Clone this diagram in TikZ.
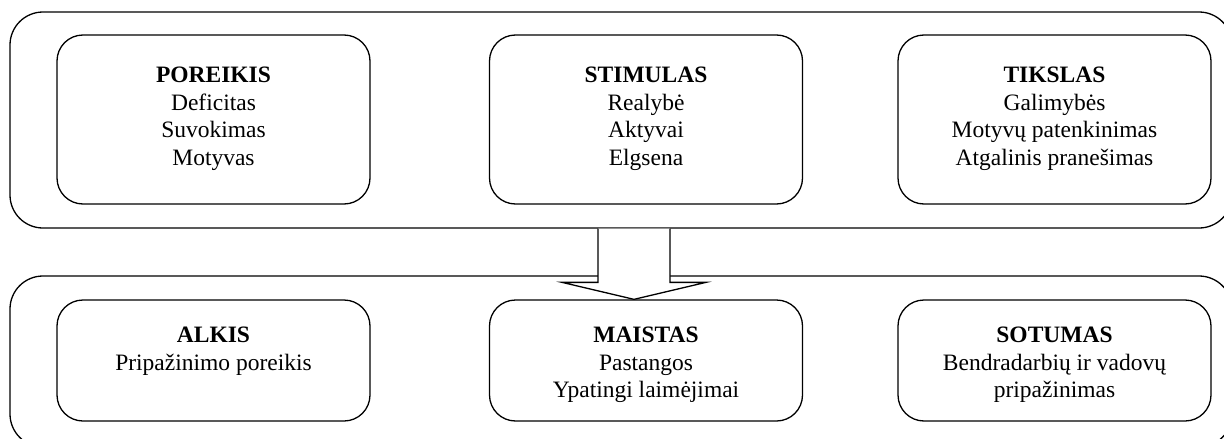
\documentclass[tikz,border=0pt]{standalone}
\usepackage{fontspec}
\setmainfont{Liberation Serif}
\usetikzlibrary{calc}

\begin{document}
\begin{tikzpicture}[x=1pt,y=-1pt,line width=1.3pt,
  outer/.style={draw,rounded corners=33pt,minimum width=1222pt},
  box/.style={draw,rounded corners=26pt,minimum width=313pt},
  txt/.style={align=center,anchor=north,inner sep=0pt,font=\fontsize{23.5}{27.5}\selectfont}]
\useasboundingbox (0,0) rectangle (1224,439);
\clip (0,0) rectangle (1224,439);
\node[outer,minimum height=216pt] (top) at (621,120) {};
\node[outer,minimum height=171pt] (bottom) at (621,361.5) {};
\node[box,minimum height=169pt] (por) at (213.5,119.5) {};
\node[box,minimum height=169pt] (sti) at (646,119.5) {};
\node[box,minimum height=169pt] (tik) at (1054.5,119.5) {};
\node[box,minimum height=121pt] (alk) at (213.5,360.5) {};
\node[box,minimum height=121pt] (mai) at (646,360.5) {};
\node[box,minimum height=121pt] (sot) at (1054.5,360.5) {};
\node[txt] (porText) at ([yshift=-32pt]por.north) {\textbf{POREIKIS}\\Deficitas\\Suvokimas\\Motyvas};
\node[txt] (stiText) at ([yshift=-32pt]sti.north) {\textbf{STIMULAS}\\Realybė\\Aktyvai\\Elgsena};
\node[txt] (tikText) at ([yshift=-32pt]tik.north) {\textbf{TIKSLAS}\\Galimybės\\Motyvų patenkinimas\\Atgalinis pranešimas};
\node[txt] (alkText) at ([yshift=-27pt]alk.north) {\textbf{ALKIS}\\Pripažinimo poreikis};
\node[txt] (maiText) at ([yshift=-27pt]mai.north) {\textbf{MAISTAS}\\Pastangos\\Ypatingi laimėjimai};
\node[txt] (sotText) at ([yshift=-27pt]sot.north) {\textbf{SOTUMAS}\\Bendradarbių ir vadovų\\pripažinimas};
\coordinate (tip) at ([xshift=-12pt]mai.north);
\coordinate (root) at (tip |- top.south);
\draw[fill=white] ([xshift=-36pt]root) -- ([xshift=-36pt,yshift=17pt]tip)
  -- ([xshift=-72pt,yshift=17pt]tip) -- (tip) -- ([xshift=72pt,yshift=17pt]tip)
  -- ([xshift=36pt,yshift=17pt]tip) -- ([xshift=36pt]root);
\end{tikzpicture}
\end{document}
